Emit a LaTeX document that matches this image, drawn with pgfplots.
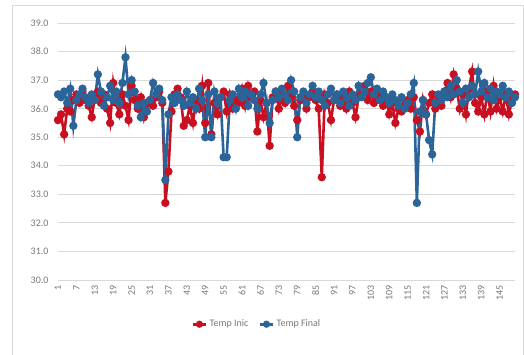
\documentclass[border=0pt]{standalone}
\usepackage{pgfplots}
\pgfplotsset{compat=1.18}
\usepackage{fontspec}
\setmainfont{Carlito}
\definecolor{inic}{RGB}{200,16,32}
\definecolor{final}{RGB}{42,100,152}
\definecolor{gridc}{RGB}{217,217,217}
\definecolor{lab}{RGB}{120,120,120}

\pgfplotstableread{
i inic final
1 35.6 36.5
2 35.8 36.4
3 35.1 36.6
4 36.0 36.2
5 35.9 36.7
6 36.3 35.4
7 36.5 36.3
8 36.2 36.5
9 36.6 36.7
10 36.3 36.4
11 36.1 36.2
12 35.7 36.5
13 36.4 36.3
14 36.6 37.2
15 36.2 36.6
16 36.5 36.1
17 36.0 36.4
18 35.5 36.8
19 36.9 36.3
20 36.2 36.6
21 35.8 36.2
22 36.5 36.9
23 36.1 37.8
24 35.6 36.5
25 36.8 37.0
26 36.3 36.6
27 36.0 36.1
28 36.4 35.7
29 35.7 36.2
30 36.2 35.9
31 36.3 36.3
32 36.1 36.9
33 36.4 36.5
34 36.6 36.7
35 36.2 36.3
36 32.7 33.5
37 33.8 35.8
38 35.9 36.4
39 36.5 36.2
40 36.7 36.5
41 36.4 36.3
42 35.4 36.1
43 35.6 36.6
44 36.1 36.2
45 35.5 36.4
46 36.3 36.0
47 36.0 36.7
48 36.8 36.3
49 35.5 35.0
50 36.9 36.5
51 35.1 35.0
52 36.2 36.6
53 35.8 36.2
54 36.4 36.4
55 36.6 34.3
56 35.9 34.3
57 36.5 36.3
58 36.0 36.5
59 36.3 36.0
60 36.2 36.7
61 36.7 36.4
62 36.1 36.6
63 36.8 36.1
64 36.4 36.5
65 36.6 36.3
66 35.2 36.0
67 36.3 36.5
68 35.7 36.9
69 36.2 36.2
70 34.7 35.5
71 36.4 36.3
72 36.6 36.6
73 36.0 36.4
74 36.5 36.7
75 36.2 36.5
76 36.8 36.3
77 36.4 37.0
78 36.1 36.6
79 35.6 35.0
80 36.3 36.4
81 36.5 36.6
82 36.0 36.2
83 36.4 36.5
84 36.6 36.8
85 36.3 36.4
86 36.0 36.6
87 33.6 36.3
88 36.5 36.1
89 36.2 36.5
90 35.6 36.7
91 36.3 36.3
92 36.5 36.5
93 36.1 36.2
94 36.4 36.6
95 36.0 36.4
96 36.6 36.1
97 36.2 36.5
98 35.7 36.3
99 36.4 36.8
100 36.5 36.4
101 36.8 36.6
102 36.3 36.9
103 36.6 37.1
104 36.2 36.5
105 36.5 36.7
106 36.3 36.3
107 36.1 36.6
108 36.4 36.4
109 35.8 36.2
110 36.2 36.5
111 35.5 36.3
112 36.0 36.1
113 35.9 36.4
114 36.1 36.0
115 36.3 36.2
116 36.0 36.5
117 36.4 36.9
118 35.6 32.7
119 35.2 35.9
120 36.3 36.3
121 35.8 35.8
122 36.2 34.9
123 36.5 34.4
124 36.0 36.2
125 36.4 36.5
126 36.1 36.3
127 36.6 36.6
128 36.9 36.4
129 36.4 36.8
130 37.2 36.5
131 36.7 37.0
132 36.0 36.6
133 36.5 36.2
134 35.8 36.7
135 36.7 36.4
136 37.3 36.8
137 36.2 36.5
138 35.9 37.3
139 36.4 36.6
140 35.8 36.9
141 36.6 36.4
142 35.9 36.7
143 36.8 36.3
144 36.0 36.6
145 36.4 36.5
146 35.9 36.8
147 36.5 36.4
148 35.8 36.6
149 36.3 36.2
150 36.5 36.4
}\temps

\begin{document}
\begin{tikzpicture}[x=1pt,y=1pt]
\useasboundingbox (0,0) rectangle (524,-354);
\draw[gridc, line width=0.8pt] (12,-5) rectangle (523,-360);
\begin{axis}[
  at={(58pt,-280pt)}, anchor=south west,
  scale only axis, width=457pt, height=257pt,
  xmin=1, xmax=150, ymin=30, ymax=39,
  xtick={1,7,...,145}, ytick={30,31,...,39},
  ymajorgrids, major grid style={gridc, line width=0.8pt},
  axis x line*=bottom, axis y line*=left,
  x axis line style={gridc, line width=0.8pt, -},
  y axis line style={draw=none},
  major tick length=0pt,
  tick label style={font=\fontsize{10}{11}\selectfont, text=lab},
  /pgf/number format/assume math mode=true,
  yticklabel style={/pgf/number format/fixed, /pgf/number format/fixed zerofill,
    /pgf/number format/precision=1, xshift=-6pt},
  xticklabel style={rotate=90, anchor=east, xshift=-2pt},
  legend style={at={(0.435,-0.172)}, anchor=center, draw=none, fill=none,
    font=\fontsize{10}{11}\selectfont, text=lab, legend columns=2,
    /tikz/every even column/.append style={column sep=8pt}},
  legend image post style={scale=0.8},
]
\addplot[inic, line width=2.6pt, mark=*, mark size=2.8pt] table[x=i, y=inic] {\temps};
\addlegendentry{Temp Inic}
\addplot[final, line width=2.6pt, mark=*, mark size=2.8pt] table[x=i, y=final] {\temps};
\addlegendentry{Temp Final}
\end{axis}
\end{tikzpicture}
\end{document}
